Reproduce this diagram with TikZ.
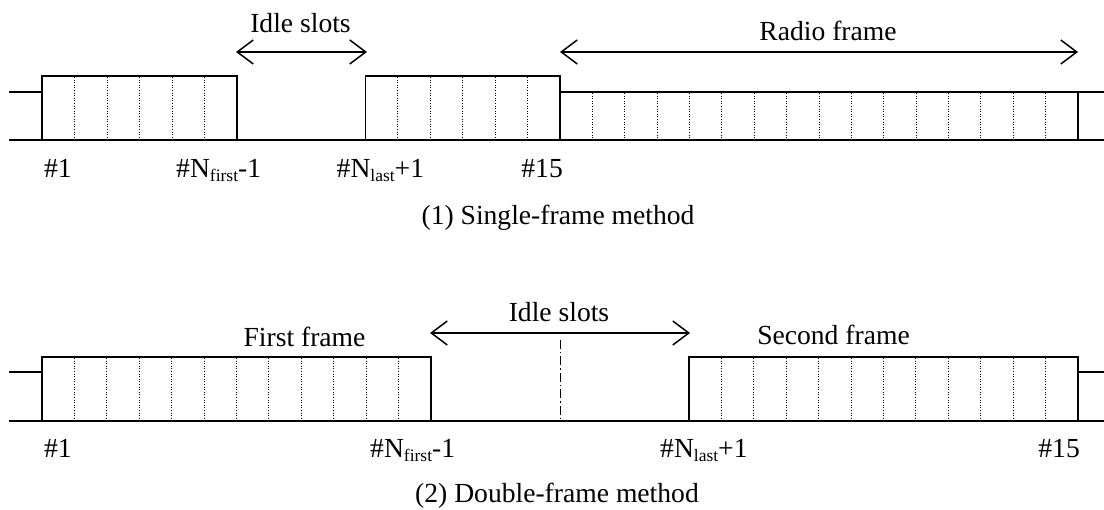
\documentclass[tikz,border=0pt]{standalone}
\usepackage{fontspec}
\setmainfont{Liberation Serif}
\usetikzlibrary{arrows.meta}
\newcommand{\sbs}[1]{\raisebox{-4pt}{\fontsize{17.5pt}{18pt}\selectfont #1}}
\tikzset{
  txt/.style={inner sep=0pt, font=\fontsize{27.6pt}{32pt}\selectfont},
  frameline/.style={line width=1.5pt},
  baseline/.style={line width=1.1pt},
  slotline/.style={line width=1pt, dash pattern=on 1pt off 1.6pt},
  centerline/.style={line width=0.9pt, dash pattern=on 9pt off 3pt on 1.5pt off 3pt},
  spanarrow/.style={line width=1.5pt, {Straight Barb[length=16pt,width=24pt]}-{Straight Barb[length=16pt,width=24pt]}}
}
\begin{document}
\begin{tikzpicture}[x=1pt,y=-1pt]
\useasboundingbox (0,0) rectangle (1104,510);
% ---------------- (1) single-frame method ----------------
\coordinate (tL) at (9,140);
\coordinate (tR) at (1104,140);
\draw[baseline] (tL) -- (tR);
\draw[frameline] (9,92) -- (42,92);
\draw[frameline] (42,140) rectangle (237,76);
\draw[frameline] (365.5,140) rectangle (560,76);
\draw[frameline] (560,92) -- (1078,92) -- (1078,140);
\draw[frameline] (1078,92) -- (1104,92);
\draw[frameline] (42,140) -- (237,140) (365.5,140) -- (1078,140);
\foreach \k in {1,...,5} {
  \draw[slotline] ({42+\k*32.5},77) -- ({42+\k*32.5},139);
  \draw[slotline] ({365.5+\k*32.42},77) -- ({365.5+\k*32.42},139);
}
\foreach \k in {1,...,15} {
  \draw[slotline] ({560+\k*32.375},93) -- ({560+\k*32.375},139);
}
\coordinate (ia1) at (236,52);
\coordinate (ib1) at (367,52);
\draw[spanarrow] (ia1) -- (ib1);
\node[txt, anchor=base] (idle1) at (300.5,33) {Idle slots};
\coordinate (ra1) at (560,52);
\coordinate (rb1) at (1078,52);
\draw[spanarrow] (ra1) -- (rb1);
\node[txt, anchor=base] (radio) at (828,41) {Radio frame};
\node[txt, anchor=base west] (s1) at (44,178) {\#1};
\node[txt, anchor=base west] (s2) at (176,178) {\#N\sbs{first}-1};
\node[txt, anchor=base west] (s3) at (336.5,178) {\#N\sbs{last}+1};
\node[txt, anchor=base east] (s4) at (563,178) {\#15};
\node[txt, anchor=base] (cap1) at (558,225) {(1) Single-frame method};
% ---------------- (2) double-frame method ----------------
\coordinate (bL) at (9,421);
\coordinate (bR) at (1104,421);
\draw[baseline] (bL) -- (bR);
\draw[frameline] (9,372) -- (42,372);
\draw[frameline] (42,421) rectangle (431,357);
\draw[frameline] (689,421) rectangle (1078,357);
\draw[frameline] (1078,372) -- (1104,372);
\foreach \k in {1,...,11} {
  \draw[slotline] ({42+\k*32.4},358) -- ({42+\k*32.4},420);
  \draw[slotline] ({689+\k*32.4},358) -- ({689+\k*32.4},420);
}
\coordinate (mid) at (560,340);
\coordinate (midb) at (560,421);
\draw[centerline] (mid) -- (midb);
\coordinate (ia2) at (430,333);
\coordinate (ib2) at (690,333);
\draw[spanarrow] (ia2) -- (ib2);
\node[txt, anchor=base] (idle2) at (559,321.5) {Idle slots};
\node[txt, anchor=base] (first) at (304.5,346.5) {First frame};
\node[txt, anchor=base] (second) at (833.5,345) {Second frame};
\node[txt, anchor=base west] (d1) at (44,458) {\#1};
\node[txt, anchor=base west] (d2) at (370,458) {\#N\sbs{first}-1};
\node[txt, anchor=base west] (d3) at (660,458) {\#N\sbs{last}+1};
\node[txt, anchor=base east] (d4) at (1080,458) {\#15};
\node[txt, anchor=base] (cap2) at (557,503) {(2) Double-frame method};
\end{tikzpicture}
\end{document}
